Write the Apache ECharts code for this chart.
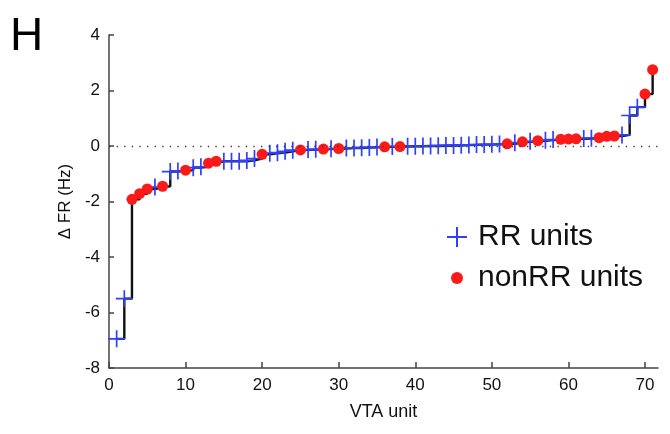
<!DOCTYPE html>
<html>
<head>
<meta charset="utf-8">
<script src="https://cdn.jsdelivr.net/npm/echarts@6/dist/echarts.min.js"></script>
<style>html,body{margin:0;padding:0;background:#fff}#c{width:670px;height:434px}</style>
</head>
<body>
<div id="c"></div>
<script>
// ΔFR per VTA unit, sorted (units 1..71)
const deltaFR = [
  -6.95, -5.50, -1.92, -1.72, -1.55, -1.48, -1.45, -0.92, -0.90, -0.87,
  -0.78, -0.75, -0.62, -0.55, -0.55, -0.55, -0.55, -0.52, -0.45, -0.30,
  -0.26, -0.24, -0.19, -0.15, -0.14, -0.13, -0.12, -0.11, -0.10, -0.09,
  -0.07, -0.07, -0.06, -0.05, -0.04, -0.03, -0.02, -0.02, -0.01, -0.01,
   0.00,  0.00,  0.01,  0.02,  0.02,  0.03,  0.04,  0.05,  0.05,  0.06,
   0.07,  0.08,  0.12,  0.15,  0.17,  0.19,  0.21,  0.23,  0.24,  0.25,
   0.26,  0.27,  0.28,  0.30,  0.35,  0.36,  0.40,  1.10,  1.40,  1.87,
   2.75
];
// unit class: R = RR unit, N = nonRR unit
const unitClass = [
  'R','R','N','N','N','R','N','R','R','N',
  'R','R','N','N','R','R','R','R','R','N',
  'R','R','R','R','N','R','R','N','R','N',
  'R','R','R','R','R','N','R','N','R','R',
  'R','R','R','R','R','R','R','R','R','R',
  'R','N','R','N','R','N','R','R','N','N',
  'N','R','R','N','N','N','R','R','R','N',
  'N'
];
const seriesNames = ['RR units', 'nonRR units'];
const xTicks = [0, 10, 20, 30, 40, 50, 60, 70];
const yTicks = [-8, -6, -4, -2, 0, 2, 4];

const units = deltaFR.map((v, i) => i + 1);
const stepData = units.map((u, i) => [u, deltaFR[i]]);
const rrData = [], nonData = [];
units.forEach((u, i) => {
  if (unitClass[i] === 'R') rrData.push([u, deltaFR[i]]);
  else nonData.push([u, deltaFR[i]]);
});

const PLUS = 'path://M7.2,0H8.8V16H7.2ZM0,7.2H16V8.8H0Z';
const BLUE = '#3040ff';
const RED = '#ff1a1a';
const FONT = '"Liberation Sans", Arial, Helvetica, sans-serif';

const chart = echarts.init(document.getElementById('c'), null, {renderer: 'canvas'});
chart.setOption({
  animation: false,
  backgroundColor: '#ffffff',
  textStyle: {fontFamily: FONT},
  graphic: [{
    type: 'text', left: 10, top: 14,
    style: {text: 'H', fontSize: 46, fontFamily: FONT, fill: '#000'}
  }],
  grid: {left: 109, top: 35, width: 549, height: 333, containLabel: false},
  legend: [{
    data: [{name: seriesNames[0], icon: PLUS}],
    orient: 'vertical', left: 447, top: 222, padding: 0,
    itemWidth: 20, itemHeight: 20,
    textStyle: {fontSize: 30, fontFamily: FONT, color: '#111', lineHeight: 30, padding: [0, 0, 0, 6]}
  }, {
    data: [{name: seriesNames[1], icon: 'circle'}],
    orient: 'vertical', left: 451, top: 263, padding: 0,
    itemWidth: 12, itemHeight: 12,
    textStyle: {fontSize: 30, fontFamily: FONT, color: '#111', lineHeight: 30, padding: [0, 0, 0, 10]}
  }],
  xAxis: {
    type: 'value', min: 0, max: 71.7, interval: 10,
    name: 'VTA unit', nameLocation: 'middle', nameGap: 35,
    nameTextStyle: {fontSize: 18, color: '#111', fontFamily: FONT},
    axisLine: {onZero: false, lineStyle: {color: '#444', width: 1.5}},
    axisTick: {inside: true, length: 6, customValues: xTicks, lineStyle: {color: '#444', width: 1.5}},
    axisLabel: {customValues: xTicks, fontSize: 17, color: '#111', margin: 9, fontFamily: FONT},
    splitLine: {show: false}
  },
  yAxis: {
    type: 'value', min: -8, max: 4, interval: 2,
    name: 'Δ FR (Hz)', nameLocation: 'middle', nameGap: 33, nameRotate: 90,
    nameTextStyle: {fontSize: 17, color: '#111', fontFamily: FONT},
    axisLine: {show: true, onZero: false, lineStyle: {color: '#444', width: 1.5}},
    axisTick: {show: true, inside: true, length: 5, customValues: yTicks, lineStyle: {color: '#444', width: 1.5}},
    axisLabel: {customValues: yTicks, fontSize: 17, color: '#111', margin: 9, fontFamily: FONT},
    splitLine: {show: false}
  },
  series: [{
    type: 'line', step: 'end', data: stepData, showSymbol: false, symbol: 'none',
    lineStyle: {color: '#111', width: 2.4}, z: 1, silent: true,
    markLine: {
      silent: true, symbol: 'none', label: {show: false},
      lineStyle: {color: '#333', type: [1.3, 6.3], width: 1.3},
      data: [{yAxis: 0}]
    }
  }, {
    name: seriesNames[0], type: 'scatter', data: rrData,
    symbol: PLUS, symbolSize: 17, itemStyle: {color: BLUE, opacity: 1}, z: 2
  }, {
    name: seriesNames[1], type: 'scatter', data: nonData,
    symbol: 'circle', symbolSize: 11, itemStyle: {color: RED, opacity: 1}, z: 3
  }]
});
</script>
</body>
</html>
